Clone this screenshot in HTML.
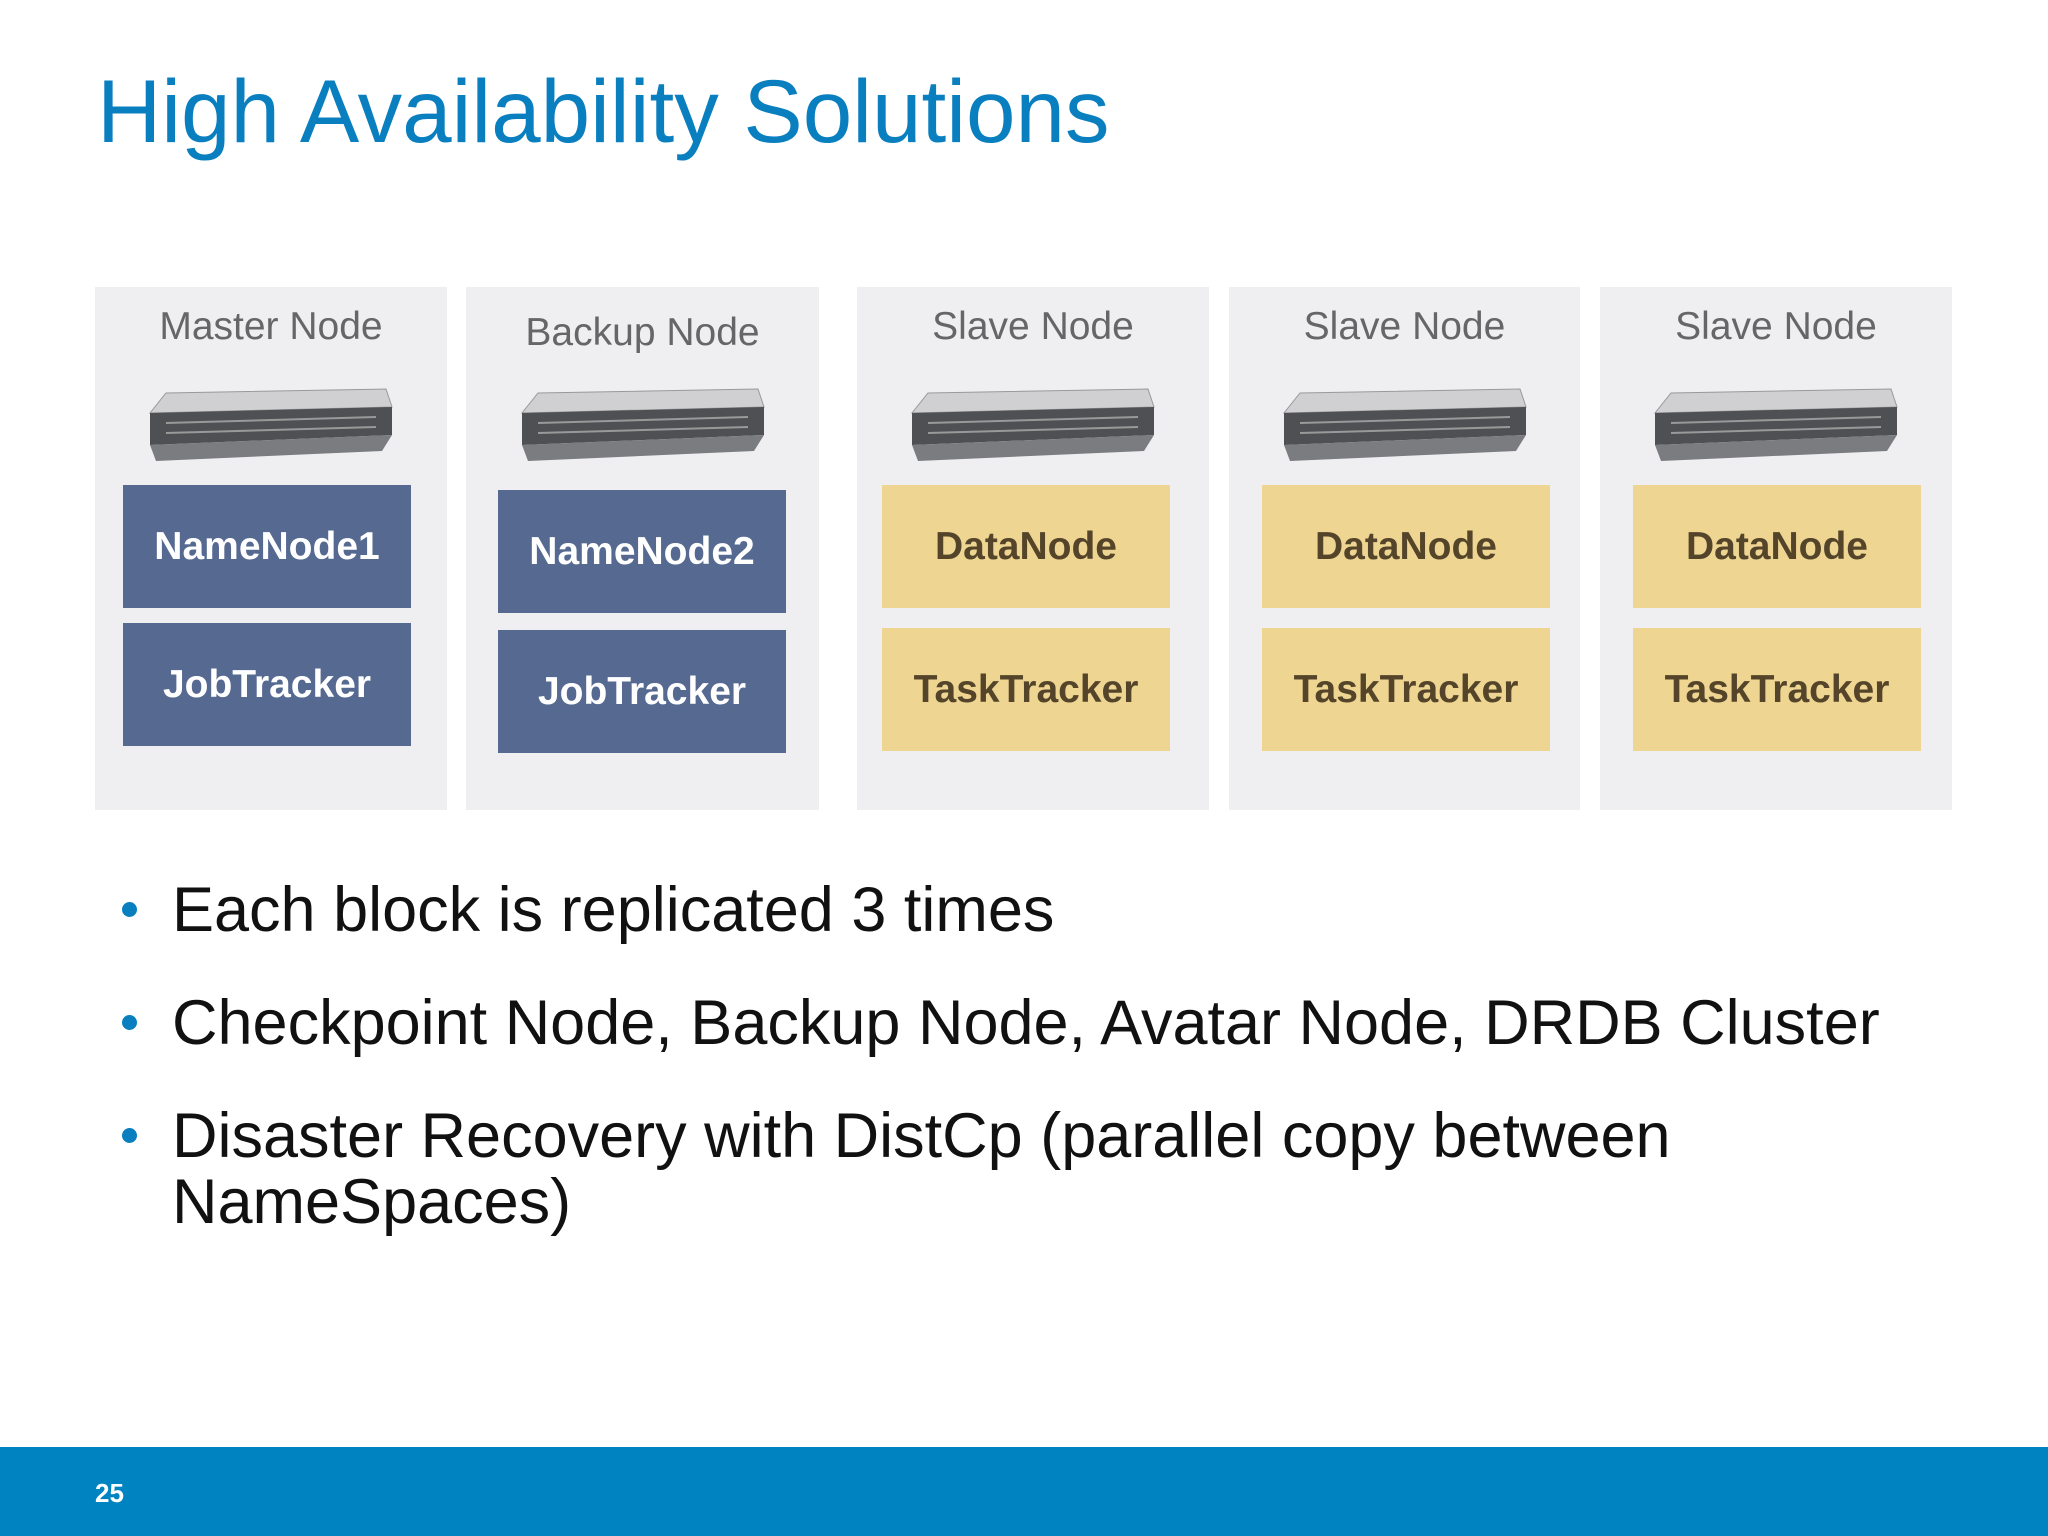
<!DOCTYPE html>
<html><head><meta charset="utf-8"><style>
body{margin:0;width:2048px;height:1536px;background:#fff;position:relative;overflow:hidden;font-family:"Liberation Sans",sans-serif}
.t{position:absolute;left:97px;top:60px;font-size:89px;color:#0a7fc0;white-space:nowrap}
.p{position:absolute;top:287px;height:523px;background:#efeef1}
.l{position:absolute;width:100%;text-align:center;top:18px;font-size:39px;color:#666}
.b{position:absolute;height:123px;display:flex;align-items:center;justify-content:center;font-size:39px;font-weight:bold}
.bl{background:#566991;color:#fff}
.y{background:#efd592;color:#54452a}
.s{position:absolute;left:50%;margin-left:-125px;top:98px}
.u{position:absolute;left:172px;font-size:63px;color:#111;white-space:nowrap;line-height:66px}
.d{position:absolute;left:122px;width:15px;height:15px;border-radius:50%;background:#0a7fc0}
.f{position:absolute;left:0;top:1447px;width:2048px;height:89px;background:#0083c1}
</style></head><body>
<div class="t">High Availability Solutions</div>

<svg width="0" height="0" style="position:absolute"><defs>
<symbol id="srv" viewBox="0 0 250 80">
<polygon points="20,8 240,4 246,22 4,28" fill="#d0d0d2" stroke="#999"/>
<polygon points="4,28 246,22 246,50 4,60" fill="#4e5054"/>
<polygon points="4,60 246,50 236,66 10,76" fill="#7a7c80"/>
<g stroke="#999" stroke-width="2"><line x1="20" y1="38" x2="230" y2="32"/><line x1="20" y1="48" x2="230" y2="42"/></g>
</symbol></defs></svg>

<div class="p" style="left:95px;width:352px"><div class="l">Master Node</div><svg class="s" width="250" height="80"><use href="#srv"/></svg></div>
<div class="p" style="left:466px;width:353px"><div class="l" style="top:24px">Backup Node</div><svg class="s" width="250" height="80"><use href="#srv"/></svg></div>
<div class="p" style="left:857px;width:352px"><div class="l">Slave Node</div><svg class="s" width="250" height="80"><use href="#srv"/></svg></div>
<div class="p" style="left:1229px;width:351px"><div class="l">Slave Node</div><svg class="s" width="250" height="80"><use href="#srv"/></svg></div>
<div class="p" style="left:1600px;width:352px"><div class="l">Slave Node</div><svg class="s" width="250" height="80"><use href="#srv"/></svg></div>

<div class="b bl" style="left:123px;top:485px;width:288px">NameNode1</div>
<div class="b bl" style="left:123px;top:623px;width:288px">JobTracker</div>
<div class="b bl" style="left:498px;top:490px;width:288px">NameNode2</div>
<div class="b bl" style="left:498px;top:630px;width:288px">JobTracker</div>
<div class="b y" style="left:882px;top:485px;width:288px">DataNode</div>
<div class="b y" style="left:882px;top:628px;width:288px">TaskTracker</div>
<div class="b y" style="left:1262px;top:485px;width:288px">DataNode</div>
<div class="b y" style="left:1262px;top:628px;width:288px">TaskTracker</div>
<div class="b y" style="left:1633px;top:485px;width:288px">DataNode</div>
<div class="b y" style="left:1633px;top:628px;width:288px">TaskTracker</div>

<div class="d" style="top:902px"></div><div class="u" style="top:877px">Each block is replicated 3 times</div>
<div class="d" style="top:1015px"></div><div class="u" style="top:990px">Checkpoint Node, Backup Node, Avatar Node, DRDB Cluster</div>
<div class="d" style="top:1128px"></div><div class="u" style="top:1103px">Disaster Recovery with DistCp (parallel copy between<br>NameSpaces)</div>

<div class="f"></div>
<div style="position:absolute;left:95px;top:1478px;font-size:26px;color:#fff;font-weight:bold">25</div>
</body></html>
